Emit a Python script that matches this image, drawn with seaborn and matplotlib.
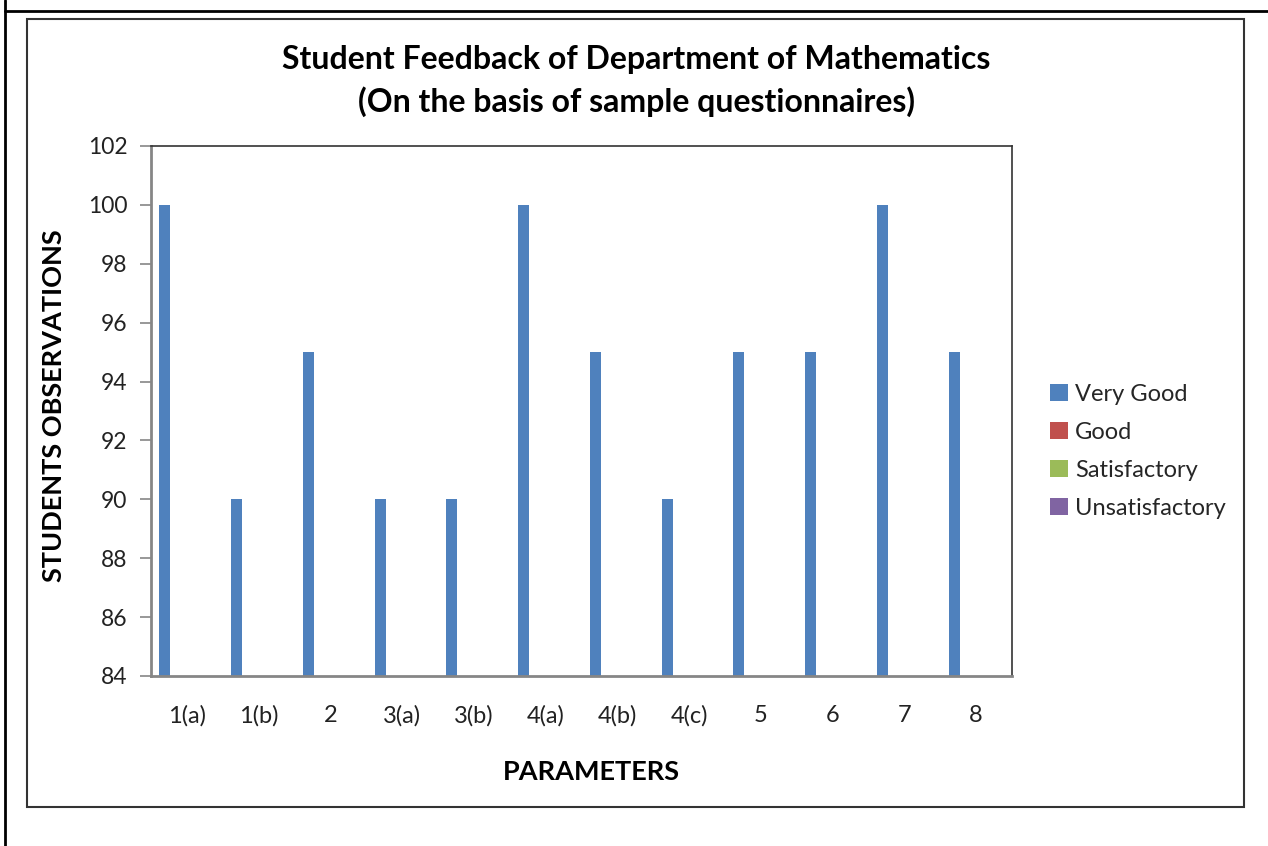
import matplotlib
matplotlib.use("Agg")
import matplotlib.pyplot as plt
import seaborn as sns
import pandas as pd
from matplotlib.patches import Rectangle
from matplotlib.lines import Line2D

# ---- data ----
parameters = ["1(a)", "1(b)", "2", "3(a)", "3(b)", "4(a)", "4(b)", "4(c)", "5", "6", "7", "8"]
very_good = [100, 90, 95, 90, 90, 100, 95, 90, 95, 95, 100, 95]
good = [0, 10, 5, 10, 10, 0, 5, 10, 5, 5, 0, 5]
satisfactory = [0, 0, 0, 0, 0, 0, 0, 0, 0, 0, 0, 0]
unsatisfactory = [0, 0, 0, 0, 0, 0, 0, 0, 0, 0, 0, 0]
series_names = ["Very Good", "Good", "Satisfactory", "Unsatisfactory"]
series_colors = ["#4F81BD", "#C0504D", "#9BBB59", "#8064A2"]
y_ticks = [84, 86, 88, 90, 92, 94, 96, 98, 100, 102]

rows = []
for name, vals in zip(series_names, [very_good, good, satisfactory, unsatisfactory]):
    for p, v in zip(parameters, vals):
        rows.append({"Parameter": p, "Series": name, "Value": v})
df = pd.DataFrame(rows)

sns.set_theme(style="white")
plt.rcParams["font.family"] = ["Lato", "DejaVu Sans"]

W, H = 1268, 846
fig = plt.figure(figsize=(W / 100, H / 100), dpi=100)
fig.patch.set_facecolor("white")

# axes position in pixels
L, R, T, B = 151, 1012, 146, 676
ax = fig.add_axes([L / W, 1 - B / H, (R - L) / W, (B - T) / H])

sns.barplot(data=df, x="Parameter", y="Value", hue="Series", order=parameters,
            hue_order=series_names, palette=series_colors, width=0.821, gap=0.254,
            saturation=1, ax=ax, legend=False, linewidth=0)

ax.set_ylim(84, 102)
ax.set_yticks(y_ticks)
ax.set_yticklabels([str(t) for t in y_ticks], fontsize=16.5, color="#222222")
ax.set_xlim(-0.5, len(parameters) - 0.5)
ax.set_xticks(range(len(parameters)))
ax.set_xticklabels(parameters, fontsize=17, color="#222222")
ax.tick_params(axis="y", length=8, width=1.2, color="#868686", pad=9, left=True, direction="out")
ax.tick_params(axis="x", length=0, pad=21)
ax.set_xlabel("")
ax.set_ylabel("")
for side in ["left", "bottom"]:
    ax.spines[side].set_color("#868686")
    ax.spines[side].set_linewidth(2)
for side in ["top", "right"]:
    ax.spines[side].set_color("#333333")
    ax.spines[side].set_linewidth(1.2)
ax.grid(False)

# chart frame and page lines
fig.add_artist(Rectangle((27 / W, 1 - 807 / H), (1244 - 27) / W, (807 - 19) / H,
                         transform=fig.transFigure, fill=False, edgecolor="#333333", linewidth=1.5))
fig.add_artist(Line2D([5 / W, 1], [1 - 11 / H, 1 - 11 / H], transform=fig.transFigure,
                      color="black", linewidth=2))
fig.add_artist(Line2D([5 / W, 5 / W], [0, 1], transform=fig.transFigure,
                      color="black", linewidth=2))

# titles and labels
fig.text(636 / W, 1 - 60 / H, "Student Feedback of Department of Mathematics",
         ha="center", va="center", fontsize=23, fontweight="bold", color="black")
fig.text(636 / W, 1 - 102 / H, "(On the basis of sample questionnaires)",
         ha="center", va="center", fontsize=23, fontweight="bold", color="black")
fig.text(54 / W, 1 - 406 / H, "STUDENTS OBSERVATIONS", rotation=90,
         ha="center", va="center", fontsize=19.5, fontweight="bold", color="black")
fig.text(591 / W, 1 - 772 / H, "PARAMETERS",
         ha="center", va="center", fontsize=19.5, fontweight="bold", color="black")

# legend
handles = [Rectangle((0, 0), 1, 1, facecolor=c, edgecolor="none") for c in series_colors]
fig.legend(handles, series_names, loc="center left", bbox_to_anchor=(1050 / W, 1 - 451 / H),
           frameon=False, fontsize=17, handlelength=0.75, handleheight=0.75,
           handletextpad=0.3, labelspacing=0.72, borderpad=0, borderaxespad=0)

fig.savefig("out.png", dpi=100, facecolor="white")
